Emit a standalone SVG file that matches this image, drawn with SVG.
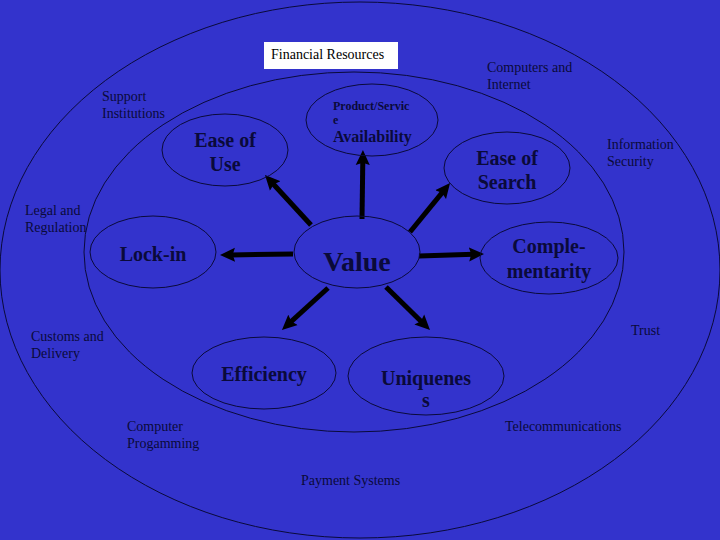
<svg xmlns="http://www.w3.org/2000/svg" width="720" height="540" viewBox="0 0 720 540">
<defs>
<style>
.ring{fill:none;stroke:#0a0a3a;stroke-width:1}
.node{fill:none;stroke:#0a0a3a;stroke-width:1}
.lbl{font-family:"Liberation Serif","Times New Roman",serif;font-weight:bold;fill:#0a0a3a;text-anchor:middle}
.sm{font-family:"Liberation Serif","Times New Roman",serif;font-size:14px;fill:#0a0a3a}
.arr{stroke:#000000;stroke-width:5;fill:none;marker-end:url(#ah)}
</style>
<marker id="ah" viewBox="0 0 10 10" markerWidth="3" markerHeight="3" refX="3" refY="5" orient="auto" markerUnits="strokeWidth">
<path d="M0,0.3 L10,5 L0,9.7 L1.5,5 z" fill="#000000"/>
</marker>
</defs>
<rect x="0" y="0" width="720" height="540" fill="#3333cc"/>
<g id="rings">
<ellipse class="ring" cx="360" cy="270" rx="360" ry="268"/>
<ellipse class="ring" cx="354" cy="252" rx="270" ry="180"/>
</g>
<g id="financial-resources">
<rect x="264" y="42" width="134" height="27" fill="#ffffff"/>
<text x="271" y="59" font-family="Liberation Serif, Times New Roman, serif" font-size="14" fill="#000000">Financial Resources</text>
</g>
<g id="outer-labels">
<text class="sm" x="487" y="72">Computers and</text>
<text class="sm" x="487" y="89">Internet</text>
<text class="sm" x="102" y="101">Support</text>
<text class="sm" x="102" y="118">Institutions</text>
<text class="sm" x="607" y="149">Information</text>
<text class="sm" x="607" y="166">Security</text>
<text class="sm" x="25" y="215">Legal and</text>
<text class="sm" x="25" y="232">Regulation</text>
<text class="sm" x="31" y="341">Customs and</text>
<text class="sm" x="31" y="358">Delivery</text>
<text class="sm" x="631" y="335">Trust</text>
<text class="sm" x="127" y="431">Computer</text>
<text class="sm" x="127" y="448">Progamming</text>
<text class="sm" x="505" y="431">Telecommunications</text>
<text class="sm" x="301" y="485">Payment Systems</text>
</g>
<g id="connectors">
<line class="arr" x1="311" y1="225" x2="272.1" y2="182.7"/>
<line class="arr" x1="362" y1="219" x2="362.8" y2="160.5"/>
<line class="arr" x1="410" y1="232" x2="443.4" y2="191.1"/>
<line class="arr" x1="293" y1="254" x2="230.5" y2="254.9"/>
<line class="arr" x1="419" y1="256" x2="473.5" y2="254.3"/>
<line class="arr" x1="328" y1="288" x2="289.7" y2="322.9"/>
<line class="arr" x1="386" y1="287" x2="422.5" y2="322.7"/>
</g>
<g id="ease-of-use">
<ellipse class="node" cx="225" cy="150" rx="63" ry="36"/>
<text class="lbl" x="225" y="147" font-size="20">Ease of</text>
<text class="lbl" x="225" y="171" font-size="20">Use</text>
</g>
<g id="availability">
<ellipse class="node" cx="372" cy="120" rx="66" ry="36"/>
<text class="lbl" x="333" y="110" font-size="12" text-anchor="start" style="text-anchor:start">Product/Servic</text>
<text class="lbl" x="333" y="124" font-size="12" style="text-anchor:start">e</text>
<text class="lbl" x="333" y="142" font-size="16" style="text-anchor:start">Availability</text>
</g>
<g id="ease-of-search">
<ellipse class="node" cx="507" cy="168" rx="63" ry="36"/>
<text class="lbl" x="507" y="165" font-size="20">Ease of</text>
<text class="lbl" x="507" y="189" font-size="20">Search</text>
</g>
<g id="lock-in">
<ellipse class="node" cx="153" cy="252" rx="63" ry="36"/>
<text class="lbl" x="153" y="261" font-size="20">Lock-in</text>
</g>
<g id="value">
<ellipse class="node" cx="357" cy="252" rx="63" ry="36"/>
<text class="lbl" x="357" y="271" font-size="28">Value</text>
</g>
<g id="complementarity">
<ellipse class="node" cx="549" cy="258" rx="69" ry="36"/>
<text class="lbl" x="549" y="253" font-size="20">Comple-</text>
<text class="lbl" x="549" y="278" font-size="20">mentarity</text>
</g>
<g id="efficiency">
<ellipse class="node" cx="264" cy="373" rx="72" ry="36"/>
<text class="lbl" x="264" y="381" font-size="20">Efficiency</text>
</g>
<g id="uniqueness">
<ellipse class="node" cx="426" cy="376" rx="78" ry="39"/>
<text class="lbl" x="426" y="385" font-size="20">Uniquenes</text>
<text class="lbl" x="426" y="407" font-size="20">s</text>
</g>
</svg>
